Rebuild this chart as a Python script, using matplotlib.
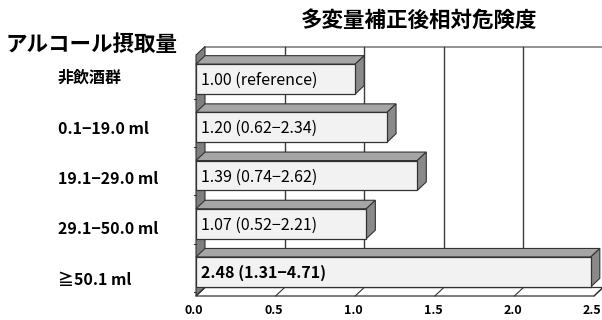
import numpy as np
import matplotlib
matplotlib.use("Agg")
import matplotlib.pyplot as plt
from matplotlib.patches import Polygon
from matplotlib.transforms import offset_copy, blended_transform_factory

plt.rcParams['font.family'] = ['Noto Sans CJK JP', 'DejaVu Sans']

# data
groups = ["非飲酒群", "0.1−19.0 ml", "19.1−29.0 ml", "29.1−50.0 ml", "≧50.1 ml"]
rr = [1.00, 1.20, 1.39, 1.07, 2.48]
ci_low = [None, 0.62, 0.74, 0.52, 1.31]
ci_high = [None, 2.34, 2.62, 2.21, 4.71]
xticks = [0.0, 0.5, 1.0, 1.5, 2.0, 2.5]

W, H = 602, 320
fig = plt.figure(figsize=(W / 100, H / 100), dpi=100)
# front plane of the 3d box, in pixels
left, right, top, bottom = 196, 594, 55, 296
ax = fig.add_axes([left / W, 1 - bottom / H, (right - left) / W, (bottom - top) / H])
xmax = 2.5
ax.set_xlim(0, xmax)
ax.set_ylim(4.5, -0.5)
for s in ax.spines.values():
    s.set_visible(False)

# depth of the box in data units
px_x = (right - left) / xmax
px_y = (bottom - top) / 5.0
dx = 9 / px_x
dy = 8.5 / px_y

edge = '#333333'
y0, y1 = -0.5, 4.5

# back wall with grid
ax.add_patch(Polygon([(dx, y0 - dy), (xmax + dx, y0 - dy), (xmax + dx, y1 - dy), (dx, y1 - dy)],
                     closed=True, fc='white', ec='none', clip_on=False, zorder=0))
ax.plot([dx, xmax + dx], [y0 - dy, y0 - dy], color='#808080', lw=1.2, clip_on=False, zorder=1)
for t in xticks[1:]:
    ax.plot([t + dx, t + dx], [y0 - dy, y1 - dy], color='#3a3a3a', lw=1.0, clip_on=False, zorder=1)

# left wall
ax.add_patch(Polygon([(0, y0), (dx, y0 - dy), (dx, y1 - dy), (0, y1)],
                     closed=True, fc='#7f7f7f', ec=edge, lw=0.8, clip_on=False, zorder=1))
for k in range(5):
    ax.plot([-0.012, 0], [k + 0.5 - dy / 2, k + 0.5 - dy / 2], color=edge, lw=0.8, clip_on=False, zorder=1)

# floor
ax.add_patch(Polygon([(0, y1), (xmax, y1), (xmax + dx, y1 - dy), (dx, y1 - dy)],
                     closed=True, fc='white', ec=edge, lw=0.9, clip_on=False, zorder=1))
for t in xticks:
    ax.plot([t, t + dx], [y1, y1 - dy], color=edge, lw=0.8, clip_on=False, zorder=1)

# bars
hh = 0.31
ypos = np.arange(len(rr))
ax.barh(ypos, rr, height=2 * hh, color='#f2f2f2', edgecolor=edge, linewidth=0.9, zorder=3)
for i, v in enumerate(rr):
    ytop, ybot = i - hh, i + hh
    ax.add_patch(Polygon([(0, ytop), (v, ytop), (v + dx, ytop - dy), (dx, ytop - dy)],
                         closed=True, fc='#a5a5a5', ec=edge, lw=0.8, clip_on=False, zorder=2))
    ax.add_patch(Polygon([(v, ytop), (v, ybot), (v + dx, ybot - dy), (v + dx, ytop - dy)],
                         closed=True, fc='#8a8a8a', ec=edge, lw=0.8, clip_on=False, zorder=2))
    if ci_low[i] is None:
        lab = f"{v:.2f} (reference)"
    else:
        lab = f"{v:.2f} ({ci_low[i]:.2f}−{ci_high[i]:.2f})"
    bold = i == len(rr) - 1
    ax.text(0.03, i + 0.03, lab, va='center', ha='left', fontsize=11.5,
            fontweight='bold' if bold else 'normal', color='black', zorder=4)

# group labels on the left, slightly more spread than the bars
lab_tr = blended_transform_factory(fig.transFigure, ax.transData)
for i, g in enumerate(groups):
    tr = offset_copy(lab_tr, fig=fig, x=0, y=-(2.2 * i - 1) * 0.72, units='points')
    ax.text(58 / W, i, g, transform=tr, fontsize=11.5, fontweight='bold',
            va='center', ha='left')

ax.set_yticks([])
ax.set_xticks([])
for t in xticks:
    ax.text(t - 0.012, -0.06, f"{t:.1f}", transform=blended_transform_factory(ax.transData, ax.transAxes),
            ha='center', va='center', fontsize=9, fontweight='bold')

fig.text(419 / W, 1 - 20 / H, "多変量補正後相対危険度", ha='center', va='center',
         fontsize=15.5, fontweight='bold')
fig.text(6 / W, 1 - 44 / H, "アルコール摂取量", ha='left', va='center',
         fontsize=15.5, fontweight='bold')

fig.savefig("out.png", dpi=100)
